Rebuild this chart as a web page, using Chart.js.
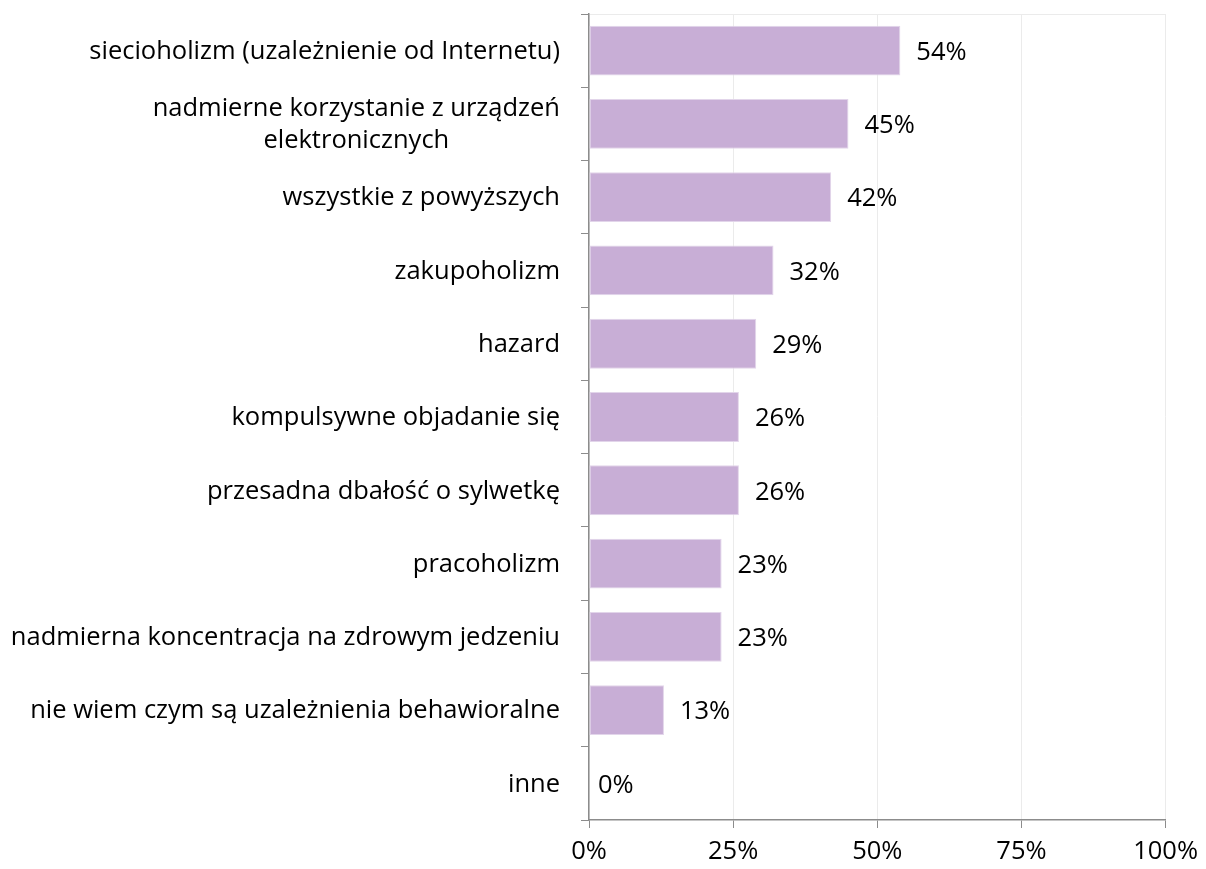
<!DOCTYPE html>
<html>
<head>
<meta charset="utf-8">
<script src="https://cdn.jsdelivr.net/npm/chart.js@4.4.1/dist/chart.umd.min.js"></script>
<style>
  body { margin: 0; background: #fff; }
  canvas { display: block; }
</style>
</head>
<body>
<canvas id="addictionChart" width="1206" height="869"></canvas>
<script>
// categories top to bottom, multi-line ones as arrays
const categories = [
    'siecioholizm (uzależnienie od Internetu)',
    ['nadmierne korzystanie z urządzeń', 'elektronicznych'],
    'wszystkie z powyższych',
    'zakupoholizm',
    'hazard',
    'kompulsywne objadanie się',
    'przesadna dbałość o sylwetkę',
    'pracoholizm',
    'nadmierna koncentracja na zdrowym jedzeniu',
    'nie wiem czym są uzależnienia behawioralne',
    'inne'
];
const values = [54, 45, 42, 32, 29, 26, 26, 23, 23, 13, 0];
const xTicks = [0, 25, 50, 75, 100];

const FONT = '"Open Sans", "Noto Sans", sans-serif';
const FONT_SIZE = 25.5;

// category labels: right-aligned block, lines centered inside it
const yLabels = {
    id: 'yLabels',
    afterDraw(chart) {
        const ctx = chart.ctx;
        const y = chart.scales.y;
        const right = chart.chartArea.left - 29;
        ctx.save();
        ctx.font = FONT_SIZE + 'px ' + FONT;
        ctx.fillStyle = '#000';
        ctx.textBaseline = 'middle';
        ctx.textAlign = 'center';
        categories.forEach((lab, i) => {
            const lines = Array.isArray(lab) ? lab : [lab];
            const yc = y.getPixelForValue(i) + 1;
            const w = Math.max(...lines.map(l => ctx.measureText(l).width));
            lines.forEach((l, j) => {
                ctx.fillText(l, right - w / 2, yc + (j - (lines.length - 1) / 2) * 32);
            });
        });
        ctx.restore();
    }
};

// value labels just past the bar end
const valueLabels = {
    id: 'valueLabels',
    afterDatasetsDraw(chart) {
        const ctx = chart.ctx;
        const meta = chart.getDatasetMeta(0);
        ctx.save();
        ctx.font = FONT_SIZE + 'px ' + FONT;
        ctx.fillStyle = '#000';
        ctx.textBaseline = 'middle';
        ctx.textAlign = 'left';
        meta.data.forEach((bar, i) => {
            ctx.fillText(values[i] + '%', bar.x + (values[i] === 0 ? 9 : 16), bar.y + 2);
        });
        ctx.restore();
    }
};

new Chart(document.getElementById('addictionChart'), {
    type: 'bar',
    data: {
        labels: categories,
        datasets: [{
            data: values,
            backgroundColor: '#C8AED6',
            borderColor: '#E2D5EA',
            borderWidth: 1,
            borderSkipped: false,
            categoryPercentage: 1,
            barPercentage: 0.68
        }]
    },
    options: {
        indexAxis: 'y',
        responsive: false,
        animation: false,
        layout: { padding: { top: 14, right: 39, left: 0, bottom: 0 } },
        plugins: { legend: { display: false }, tooltip: { enabled: false } },
        scales: {
            x: {
                min: 0,
                max: 100,
                afterBuildTicks: s => { s.ticks = xTicks.map(v => ({ value: v })); },
                afterFit: s => { s.height = 49; },
                grid: { color: '#EBEBEB', tickColor: '#8C8C8C', tickLength: 8, lineWidth: 1 },
                border: { color: '#8C8C8C', width: 1.5 },
                ticks: {
                    color: '#000',
                    padding: 8,
                    maxRotation: 0,
                    font: { family: FONT, size: FONT_SIZE },
                    callback: v => v + '%'
                }
            },
            y: {
                z: 1,
                offset: true,
                afterFit: s => { s.width = 589; },
                grid: {
                    offset: true,
                    drawOnChartArea: true,
                    color: ctx => ctx.index === 0 ? '#EBEBEB' : 'rgba(0,0,0,0)',
                    tickColor: '#8C8C8C',
                    tickLength: 8
                },
                border: { color: '#8C8C8C', width: 1.5 },
                ticks: { display: false }
            }
        }
    },
    plugins: [yLabels, valueLabels]
});
</script>
</body>
</html>
